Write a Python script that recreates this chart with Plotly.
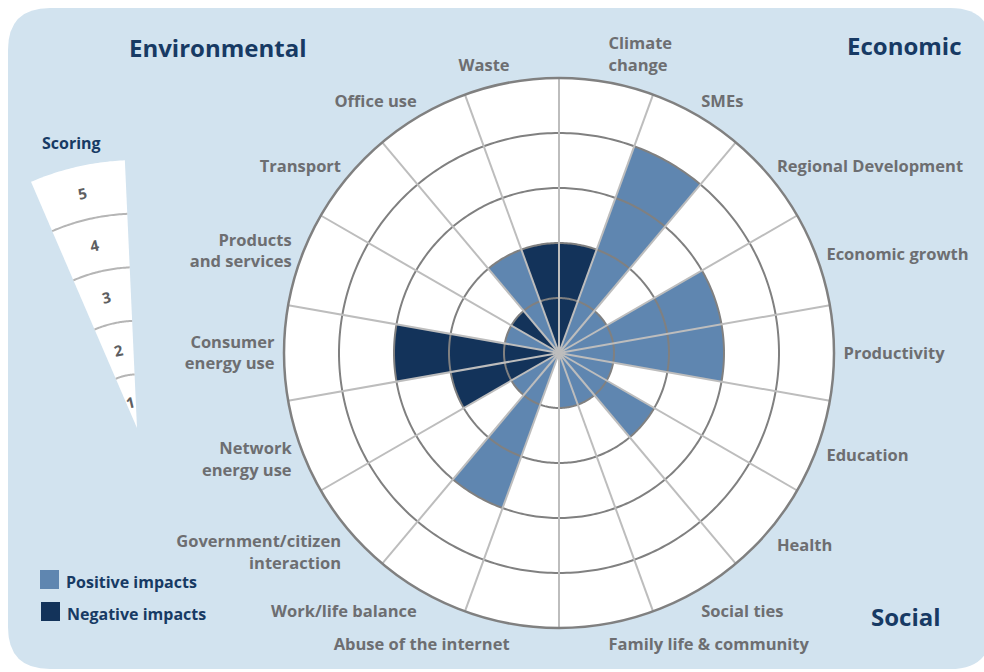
import numpy as np
import plotly.graph_objects as go

# ---------------- data ----------------
categories = [
    "Climate<br>change", "SMEs", "Regional Development", "Economic growth",
    "Productivity", "Education", "Health", "Social ties",
    "Family life & community", "Abuse of the internet", "Work/life balance",
    "Government/citizen<br>interaction", "Network<br>energy use",
    "Consumer<br>energy use", "Products<br>and services", "Transport",
    "Office use", "Waste",
]
scores = [2, 4, 1, 3, 3, 1, 2, 1, 1, 0, 3, 1, 2, 3, 1, 1, 2, 2]
impacts = ["Negative", "Positive", "Positive", "Positive", "Positive", "Positive",
           "Positive", "Positive", "Positive", "Negative", "Positive", "Positive",
           "Negative", "Negative", "Positive", "Negative", "Positive", "Negative"]
score_levels = [1, 2, 3, 4, 5]
group_titles = ["Environmental", "Economic", "Social"]
legend_labels = ["Positive impacts", "Negative impacts"]

# ---------------- style ----------------
W, H = 984, 672
C_POS = "#5f86b0"
C_NEG = "#13335a"
C_BG = "#d2e3ef"
C_NAVY = "#173a64"
C_TEXT = "#6d6e71"
C_RING = "#808080"
C_SPOKE = "#bdbdbd"
FONT = "Open Sans"

n = len(categories)
step = 360 / n
centers = [step / 2 + i * step for i in range(n)]
bounds = [i * step for i in range(n)]
rmax = max(score_levels)


def P(x, y):
    return f"{x / W:.5f},{1 - y / H:.5f}"


fig = go.Figure()

colors = {"Positive": C_POS, "Negative": C_NEG}
for kind in ["Positive", "Negative"]:
    idx = [i for i in range(n) if impacts[i] == kind]
    fig.add_trace(go.Barpolar(
        r=[scores[i] for i in idx],
        theta=[centers[i] for i in idx],
        width=[step] * len(idx),
        marker=dict(color=colors[kind], line=dict(width=0)),
        name=kind + " impacts",
        showlegend=False,
        hoverinfo="skip",
    ))

# rings (drawn above bars)
ring_theta = np.linspace(0, 360, 361)
for lv in score_levels[:-1]:
    fig.add_trace(go.Scatterpolar(
        r=[lv] * len(ring_theta), theta=ring_theta, mode="lines",
        line=dict(color=C_RING, width=2), showlegend=False, hoverinfo="skip",
    ))

# spokes on category boundaries
sr, st = [], []
for b in bounds:
    sr += [0, rmax, None]
    st += [b, b, None]
fig.add_trace(go.Scatterpolar(
    r=sr, theta=st, mode="lines", connectgaps=False,
    line=dict(color=C_SPOKE, width=2), showlegend=False, hoverinfo="skip",
))

cx, cy, R = 559, 353, 275
fig.update_layout(
    width=W, height=H, autosize=False,
    margin=dict(l=0, r=0, t=0, b=0),
    paper_bgcolor="white",
    showlegend=False,
    hovermode=False,
    polar=dict(
        domain=dict(x=[(cx - R) / W, (cx + R) / W],
                    y=[(H - cy - R) / H, (H - cy + R) / H]),
        bgcolor="white",
        bargap=0,
        radialaxis=dict(range=[0, rmax], showgrid=False, showline=False,
                        showticklabels=False, ticks=""),
        angularaxis=dict(
            direction="clockwise", rotation=90, thetaunit="degrees",
            tickmode="array", tickvals=centers, ticktext=categories,
            showgrid=False, showline=True, linecolor=C_RING, linewidth=2.5,
            ticks="outside", ticklen=5, tickcolor="rgba(0,0,0,0)",
            tickfont=dict(family=FONT, size=16.5, color=C_TEXT, weight="bold"),
        ),
    ),
)

shapes = []
# rounded background panel
x0, y0, x1, y1, rad = 8, 8, 992, 669, 42
bg_path = (f"M{P(x0 + rad, y0)} L{P(x1 - rad, y0)} Q{P(x1, y0)} {P(x1, y0 + rad)} "
           f"L{P(x1, y1 - rad)} Q{P(x1, y1)} {P(x1 - rad, y1)} "
           f"L{P(x0 + rad, y1)} Q{P(x0, y1)} {P(x0, y1 - rad)} "
           f"L{P(x0, y0 + rad)} Q{P(x0, y0)} {P(x0 + rad, y0)} Z")
shapes.append(dict(type="path", path=bg_path, xref="paper", yref="paper",
                   fillcolor=C_BG, line=dict(width=0), layer="below"))

# scoring key wedge
ax_, ay_ = 137, 428
unit = 53.6
a0, a1 = -23.3, -2.6
amid = (a0 + a1) / 2


def wpt(r, a):
    t = np.radians(a)
    return ax_ + r * np.sin(t), ay_ - r * np.cos(t)


arc = np.linspace(a0, a1, 40)
outer = [wpt(unit * rmax, a) for a in arc]
wpath = f"M{P(ax_, ay_)} " + " ".join(f"L{P(x, y)}" for x, y in outer) + " Z"
shapes.append(dict(type="path", path=wpath, xref="paper", yref="paper",
                   fillcolor="white", line=dict(width=0)))
for lv in score_levels[:-1]:
    pts = [wpt(unit * lv, a) for a in arc]
    p = f"M{P(*pts[0])} " + " ".join(f"L{P(x, y)}" for x, y in pts[1:])
    shapes.append(dict(type="path", path=p, xref="paper", yref="paper",
                       fillcolor="rgba(0,0,0,0)", line=dict(color="#b5b5b5", width=2)))

# legend squares
leg_pos = [(40, 570), (41, 602)]
leg_cols = [C_POS, C_NEG]
for (lx, ly), col in zip(leg_pos, leg_cols):
    shapes.append(dict(type="rect", xref="paper", yref="paper",
                       x0=lx / W, x1=(lx + 19) / W, y0=1 - (ly + 19) / H, y1=1 - ly / H,
                       fillcolor=col, line=dict(width=0)))

annotations = []
title_pos = [(217, 48), (904, 46), (906, 616)]
for t, (tx, ty) in zip(group_titles, title_pos):
    annotations.append(dict(text=t, x=tx / W, y=1 - ty / H, xref="paper", yref="paper",
                            showarrow=False, xanchor="center", yanchor="middle",
                            font=dict(family=FONT, size=24, color=C_NAVY, weight="bold")))
annotations.append(dict(text="Scoring", x=71 / W, y=1 - 143 / H, xref="paper", yref="paper",
                        showarrow=False, xanchor="center", yanchor="middle",
                        font=dict(family=FONT, size=16, color=C_NAVY, weight="bold")))
for lv in score_levels:
    px_, py_ = wpt(unit * (lv - 0.5), amid)
    annotations.append(dict(text=str(lv), x=px_ / W, y=1 - py_ / H, xref="paper", yref="paper",
                            showarrow=False, xanchor="center", yanchor="middle", textangle=-13,
                            font=dict(family=FONT, size=15, color="#5d5e61", weight="bold")))
for lab, (lx, ly) in zip(legend_labels, leg_pos):
    annotations.append(dict(text=lab, x=(lx + 24) / W, y=1 - (ly + 12) / H, xref="paper", yref="paper",
                            showarrow=False, xanchor="left", yanchor="middle",
                            font=dict(family=FONT, size=16, color=C_NAVY, weight="bold")))

fig.update_layout(shapes=shapes, annotations=annotations)
fig.write_html("out.html", config={"displayModeBar": False},
               post_script="document.body.style.margin='0';document.body.style.overflow='hidden';")
